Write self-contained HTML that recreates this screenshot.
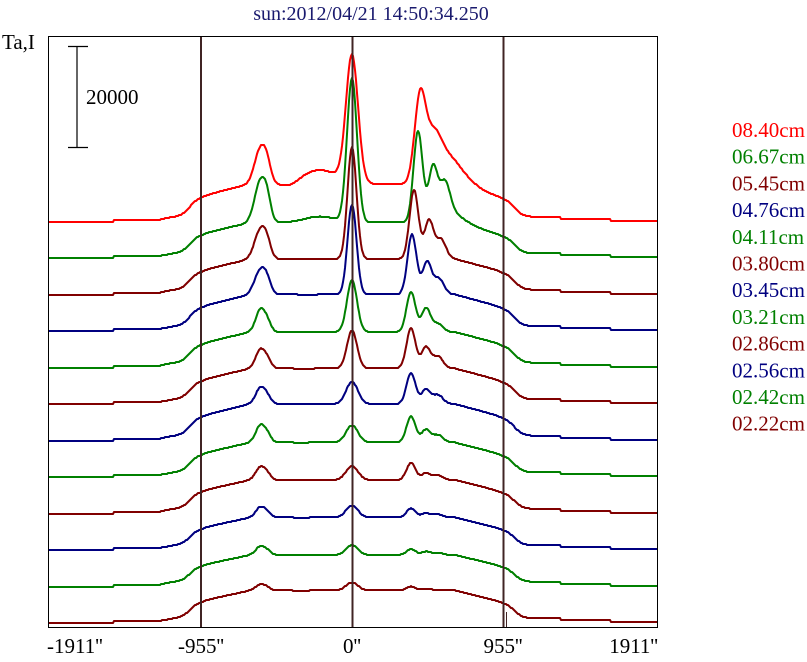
<!DOCTYPE html>
<html><head><meta charset="utf-8"><style>
body{margin:0;background:#fff;width:807px;height:662px;overflow:hidden}
svg{display:block}
svg text{font-family:'Liberation Serif','DejaVu Serif','Times New Roman',serif}
</style></head><body>
<svg id="s" width="807" height="662" xmlns="http://www.w3.org/2000/svg" font-family="'Liberation Serif','DejaVu Serif',serif">
<rect x="0" y="0" width="807" height="662" fill="#fff"/>
<text x="371" y="20" font-size="20" fill="#1a1a6e" text-anchor="middle">sun:2012/04/21 14:50:34.250</text>
<text x="2" y="49" font-size="21" fill="#000">Ta,I</text>
<rect x="48.5" y="36.5" width="609" height="591" fill="none" stroke="#000" stroke-width="1"/>
<g stroke="#000" stroke-width="1.2">
<line x1="77" y1="46" x2="77" y2="147"/><line x1="68" y1="46.5" x2="88" y2="46.5"/><line x1="68" y1="147.5" x2="88" y2="147.5"/>
</g>
<text x="86" y="104" font-size="21" fill="#000">20000</text>
<g id="traces" fill="none" stroke-width="2" stroke-linejoin="round"></g>
<g stroke="#402424" stroke-width="2">
<line x1="201" y1="37" x2="201" y2="627"/><line x1="352.5" y1="37" x2="352.5" y2="627"/><line x1="503.5" y1="37" x2="503.5" y2="627"/>
</g>
<line x1="506.5" y1="612" x2="506.5" y2="627" stroke="#402424" stroke-width="1"/>
<g font-size="21" fill="#000">
<text x="47" y="653">-1911''</text>
<text x="201" y="653" text-anchor="middle">-955''</text>
<text x="352" y="653" text-anchor="middle">0''</text>
<text x="503" y="653" text-anchor="middle">955''</text>
<text x="658" y="653" text-anchor="end">1911''</text>
</g>
<g font-size="21" id="leg"></g>
</svg>
<script>
var cols=["#008000","#800000","#000080"];
var names=["08.40cm","06.67cm","05.45cm","04.76cm","04.11cm","03.80cm","03.45cm","03.21cm","02.86cm","02.56cm","02.42cm","02.22cm"];
// [A262, Acenter, A413, A430, A440, D, x413, sigC]
var P=[
[80,165,120,105,80,38,420,6],
[85,180,126,95,78,36,418,5],
[71,148,105,81,62,36,414,4.5],
[66,127,97,75,58,37,412,4.5],
[62,88,76,64,47,36,411,5],
[58,74,76,61,52,36,411,5],
[56,59,68,54,49,37,411,6],
[55,52,61,50,45,35,411,6],
[49,48,51,42,40,34,411,6],
[45,45,42,38,37,33,411,6],
[42,42,38,36,35,32,411,6],
[40,41,37,35,34,33,411,6]];
function sg(v){return 1/(1+Math.exp(-v));}
function g(x,c,s){return Math.exp(-(x-c)*(x-c)/(2*s*s));}
var out="",leg="";
for(var i=0;i<12;i++){
 var p=P[i],b=222+36.5*i,D=p[5],col=i==0?"#ff0000":cols[(i-1)%3];
 var d="";
 for(var x=49;x<=657;x++){
  var core;
  if(x<250) core=0.68+0.32*Math.max(0,(x-201))/49;
  else if(x>455) core=1-0.35*Math.min(1,(x-455)/48);
  else core=1;
  var edge=sg((x-190)/4.5)*sg((514-x)/4.5);
  var off=(x>113?2:0)+(x>160?3*sg((x-165)/4):0)-(x>560?2:0)-(x>610?2:0);
  off*=(1-edge);
  var y=D*core*edge+off;
  var s1=i<4?5.5:4.5;
  y+=(p[0]-D)*(0.8*g(x,260,s1)+0.4*g(x,267,4));
  y+=(p[1]-D)*g(x,352,p[7]);
  if(i==0){
   y+=(p[2]-D)*g(x,420,5.5);
   y+=45*g(x,433,8)+20*g(x,447,10)+14*g(x,320,18)+10*g(x,462,12)-4*g(x,290,8);
  } else {
   y+=(p[2]-D)*g(x,p[6],4.5);
   y+=(p[3]-D)*0.85*g(x,p[6]+15,4.5);
   y+=(p[4]-D)*0.75*g(x,p[6]+27,5);
   if(i==1){y+=6*g(x,320,15)+10*g(x,448,15);}
  }
  var yy=Math.round(b-y);
  d+=(x==49?"M":"L")+x+" "+yy;
 }
 out+='<path d="'+d+'" stroke="'+col+'"/>';
 leg+='<text x="732" y="'+(137+26.7*i).toFixed(1)+'" fill="'+col+'">'+names[i]+'</text>';
}
document.getElementById("traces").innerHTML=out;
document.getElementById("leg").innerHTML=leg;
</script>
</body></html>
